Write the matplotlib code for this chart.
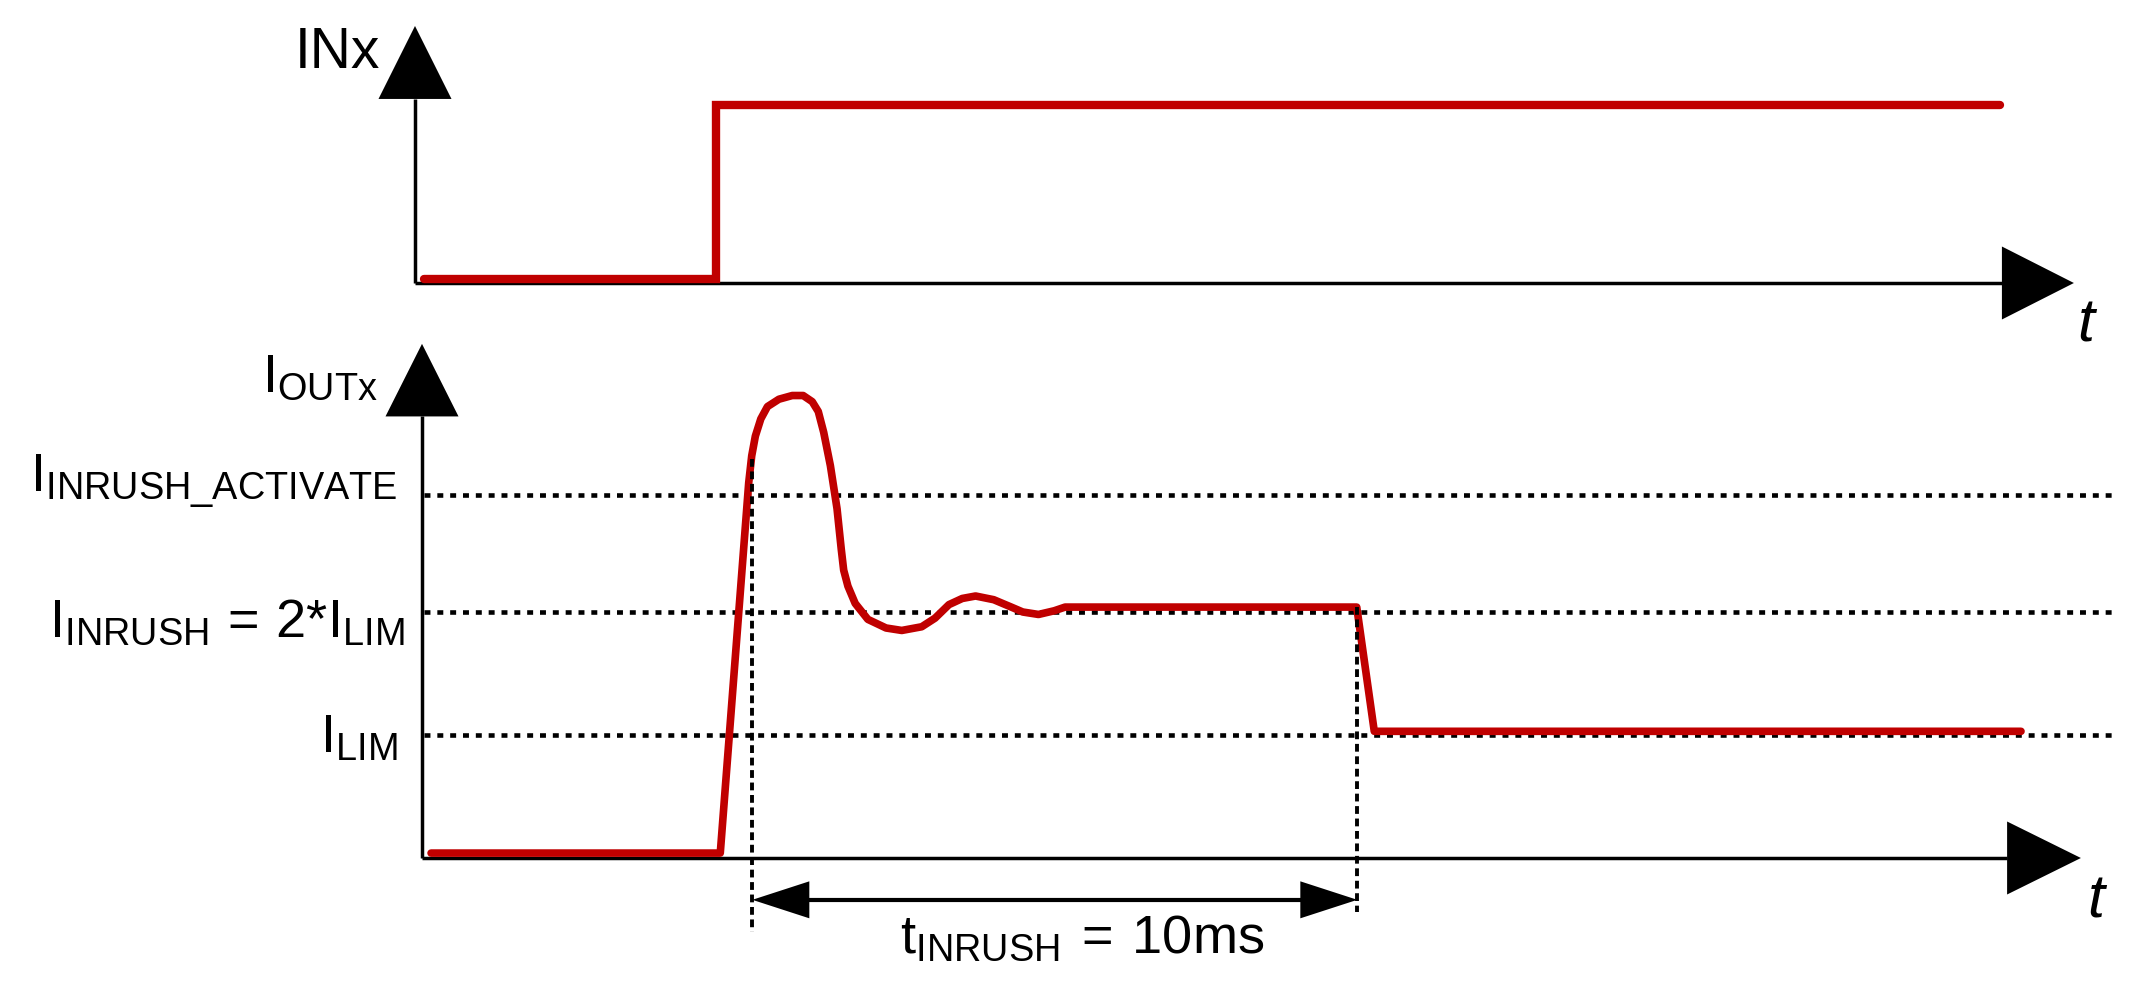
import matplotlib
matplotlib.use('Agg')
import matplotlib.pyplot as plt

plt.rcParams['font.family'] = ['Liberation Sans', 'DejaVu Sans']
plt.rcParams['mathtext.fontset'] = 'custom'
plt.rcParams['mathtext.rm'] = 'Liberation Sans'
plt.rcParams['mathtext.it'] = 'Liberation Sans:italic'
plt.rcParams['mathtext.bf'] = 'Liberation Sans:bold'

RED = '#C00000'

# INx logic input (top trace), high = 1
in_t = [0.15, 4.98, 4.98, 26.2]
in_v = [0.022, 0.022, 1.0, 1.0]

# IOUTx current (bottom trace), in units of I_LIM
i_lim = 1.0
i_inrush = 2.0
i_activate = 2.95
levels = [i_activate, i_inrush, i_lim]
level_labels = [r'$\mathrm{I_{INRUSH\_ACTIVATE}}$',
                r'$\mathrm{I_{INRUSH}\,=\,2{*}I_{LIM}}$',
                r'$\mathrm{I_{LIM}}$']

out_t = [0.15, 4.93, 5.40, 5.45, 5.51, 5.60, 5.71, 5.90, 6.12, 6.30, 6.45, 6.55,
         6.64, 6.75, 6.86, 6.93, 6.97, 7.04, 7.16, 7.37, 7.67, 7.93, 8.26, 8.48,
         8.71, 8.93, 9.15, 9.45, 9.74, 9.93, 10.19, 10.45, 10.63, 15.45, 15.74, 26.43]
out_i = [0.04, 0.04, 3.05, 3.27, 3.43, 3.57, 3.67, 3.73, 3.76, 3.76, 3.71, 3.63,
         3.46, 3.19, 2.84, 2.51, 2.34, 2.21, 2.07, 1.94, 1.87, 1.85, 1.88, 1.95,
         2.06, 2.11, 2.13, 2.10, 2.04, 2.00, 1.98, 2.01, 2.04, 2.04, 1.03, 1.03]

t_start = 5.46
t_inrush = 10.0

# layout (pixels)
W, H = 2131, 994
SPLIT = 330
PX = 60.5          # px per time unit
TOP_OX, TOP_OY, TOP_SY = 415, 283, 178
BOT_OX, BOT_OY, BOT_SY = 422, 858, 123
FS = 39

fig = plt.figure(figsize=(W / 100, H / 100), dpi=100)

ax1 = fig.add_axes([0, 1 - SPLIT / H, 1, SPLIT / H])
ax1.set_xlim(-TOP_OX / PX, (W - TOP_OX) / PX)
ax1.set_ylim((TOP_OY - SPLIT) / TOP_SY, TOP_OY / TOP_SY)
ax1.axis('off')

ax2 = fig.add_axes([0, 0, 1, 1 - SPLIT / H])
ax2.set_xlim(-BOT_OX / PX, (W - BOT_OX) / PX)
ax2.set_ylim((BOT_OY - H) / BOT_SY, (BOT_OY - SPLIT) / BOT_SY)
ax2.axis('off')


def head(ax, x, y, d, length, width, sy):
    # filled triangle, tip at (x, y), pointing along d; sizes in px
    dx, dy = d
    bx, by = x - dx * length / PX, y - dy * length / sy
    px, py = -dy * width / 2 / PX, dx * width / 2 / sy
    ax.fill([x, bx + px, bx - px], [y, by + py, by - py], color='k', lw=0, zorder=6)


def axes_arrows(ax, sy, y_base, y_tip, t_base, t_tip):
    ax.plot([0, 0], [0, y_base], color='k', lw=2.5, solid_capstyle='butt', zorder=4)
    ax.plot([0, t_base], [0, 0], color='k', lw=2.5, solid_capstyle='butt', zorder=4)
    head(ax, 0, y_tip, (0, 1), (y_tip - y_base) * sy, 73, sy)
    head(ax, t_tip, 0, (1, 0), (t_tip - t_base) * PX, 73, sy)


# top panel
axes_arrows(ax1, TOP_SY, 1.034, 1.444, 26.23, 27.42)
ax1.plot(in_t, in_v, color=RED, lw=6, solid_joinstyle='miter', solid_capstyle='round', zorder=5)
ax1.text(-0.58, 1.21, 'INx', fontsize=41, ha='right', va='baseline')
ax1.text(27.47, -0.33, 't', fontsize=44, style='italic', ha='left', va='baseline')

# bottom panel
axes_arrows(ax2, BOT_SY, 3.59, 4.18, 26.2, 27.42)
for lvl in levels:
    ax2.plot([0.03, 27.95], [lvl, lvl], color='k', lw=3.3, linestyle=(0, (1.3, 1.5)), zorder=2)

ax2.plot(out_t, out_i, color=RED, lw=5.5, solid_joinstyle='round', solid_capstyle='round', zorder=5)

t_end = t_start + t_inrush
ax2.plot([t_start, t_start], [3.24, -0.60], color='k', lw=2.8, linestyle=(0, (2.0, 1.2)), zorder=7)
ax2.plot([t_end, t_end], [2.04, -0.44], color='k', lw=2.8, linestyle=(0, (2.0, 1.2)), zorder=7)

y_dim = -0.34
ax2.plot([t_start + 0.5, t_end - 0.5], [y_dim, y_dim], color='k', lw=3, zorder=4)
head(ax2, t_start, y_dim, (-1, 0), 57, 37, BOT_SY)
head(ax2, t_end, y_dim, (1, 0), 57, 37, BOT_SY)
ax2.text(10.91, -0.77, r'$\mathrm{t_{INRUSH}\:=\:10ms}$', fontsize=FS, ha='center', va='baseline')

ax2.text(-0.73, 3.79, r'$\mathrm{I_{OUTx}}$', fontsize=FS, ha='right', va='baseline')
ax2.text(-0.41, 2.98, level_labels[0], fontsize=FS, ha='right', va='baseline')
ax2.text(-0.28, 1.80, level_labels[1], fontsize=FS, ha='right', va='baseline')
ax2.text(-0.41, 0.86, level_labels[2], fontsize=FS, ha='right', va='baseline')
ax2.text(27.52, -0.48, 't', fontsize=44, style='italic', ha='left', va='baseline')

fig.savefig('out.png', dpi=100)
